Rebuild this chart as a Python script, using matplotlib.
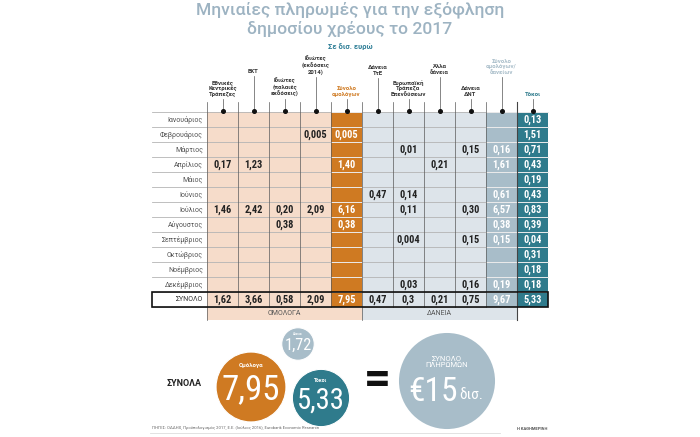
import matplotlib
matplotlib.use("Agg")
import matplotlib.pyplot as plt
from matplotlib import font_manager
from matplotlib.patches import Rectangle, Circle
import numpy as np

# --- data (δισ. ευρώ) ---
months = ["Ιανουάριος", "Φεβρουάριος", "Μάρτιος", "Απρίλιος", "Μάιος", "Ιούνιος",
          "Ιούλιος", "Αύγουστος", "Σεπτέμβριος", "Οκτώβριος", "Νοέμβριος", "Δεκέμβριος"]

col_labels = ["Εθνικές\nΚεντρικές\nΤράπεζες", "ΕΚΤ", "Ιδιώτες\n(παλαιές\nεκδόσεις)",
              "Ιδιώτες\n(εκδόσεις\n2014)", "Σύνολο\nομολόγων", "Δάνεια\nΤτΕ",
              "Ευρωπαϊκή\nΤράπεζα\nΕπενδύσεων", "Άλλα\nδάνεια", "Δάνεια\nΔΝΤ",
              "Σύνολο\nομολόγων/\nδανείων", "Τόκοι"]

ncb       = ["", "", "", "0,17", "", "", "1,46", "", "", "", "", ""]
ecb       = ["", "", "", "1,23", "", "", "2,42", "", "", "", "", ""]
priv_old  = ["", "", "", "", "", "", "0,20", "0,38", "", "", "", ""]
priv_2014 = ["", "0,005", "", "", "", "", "2,09", "", "", "", "", ""]
bonds_tot = ["", "0,005", "", "1,40", "", "", "6,16", "0,38", "", "", "", ""]
bog       = ["", "", "", "", "", "0,47", "", "", "", "", "", ""]
eib       = ["", "", "0,01", "", "", "0,14", "0,11", "", "0,004", "", "", "0,03"]
other     = ["", "", "", "0,21", "", "", "", "", "", "", "", ""]
imf       = ["", "", "0,15", "", "", "", "0,30", "", "0,15", "", "", "0,16"]
bl_tot    = ["", "", "0,16", "1,61", "", "0,61", "6,57", "0,38", "0,15", "", "", "0,19"]
interest  = ["0,13", "1,51", "0,71", "0,43", "0,19", "0,43", "0,83", "0,39", "0,04",
             "0,31", "0,18", "0,18"]
totals    = ["1,62", "3,66", "0,58", "2,09", "7,95", "0,47", "0,3", "0,21", "0,75",
             "9,67", "5,33"]

sum_bonds = 7.95
sum_loans = 1.72
sum_interest = 5.33
sum_all = 15

table = [ncb, ecb, priv_old, priv_2014, bonds_tot, bog, eib, other, imf, bl_tot, interest]

# --- style ---
PEACH, ORANGE = "#f6dcca", "#cf7a22"
LBLUE, GBLUE, TEAL = "#dde4ea", "#a8bdc9", "#2f7b8c"
TITLE_C = "#9db3c2"
col_fill = [PEACH] * 4 + [ORANGE] + [LBLUE] * 4 + [GBLUE, TEAL]
col_text = ["#222"] * 4 + ["white"] + ["#222"] * 4 + ["white", "white"]
head_color = ["#333"] * 4 + [ORANGE] + ["#333"] * 4 + [GBLUE, TEAL]
head_bottom = [97, 74, 97, 75, 97, 76, 97, 75, 97, 75, 97]

names = {f.name for f in font_manager.fontManager.ttflist}
NARROW = next((n for n in ["Liberation Sans Narrow", "Roboto Condensed",
                           "Open Sans Condensed"] if n in names), "Roboto")
BASE = "Roboto" if "Roboto" in names else "DejaVu Sans"

x0, cw = 207, 31
y0, rh = 112, 15
lab_left = 152
n_cols = len(table)
n_rows = len(months)
x_end = x0 + cw * n_cols

fig = plt.figure(figsize=(7, 4.37), dpi=100)
ax = fig.add_axes([0, 0, 1, 1])
ax.set_xlim(0, 700)
ax.set_ylim(437, 0)
ax.axis("off")

# title
ax.text(350, 10, "Μηνιαίες πληρωμές για την εξόφληση", ha="center", va="center",
        fontsize=12.6, color=TITLE_C, weight=500, family=BASE)
ax.text(350, 29, "δημοσίου χρέους το 2017", ha="center", va="center",
        fontsize=12.6, color=TITLE_C, weight=500, family=BASE)
ax.text(350, 46, "Σε δισ. ευρώ", ha="center", va="center", fontsize=5.5,
        color="#2f7f97", weight="bold", family=BASE)

# column fills
for j in range(n_cols):
    ax.add_patch(Rectangle((x0 + cw * j, y0), cw, rh * (n_rows + 1),
                           facecolor=col_fill[j], edgecolor="none", zorder=1))

# bottom bands
band_y = y0 + rh * (n_rows + 1)
ax.add_patch(Rectangle((x0, band_y), cw * 5, 13, facecolor=PEACH, edgecolor="none"))
ax.add_patch(Rectangle((x0 + cw * 5, band_y), cw * 5, 13, facecolor=LBLUE, edgecolor="none"))
ax.text(x0 + cw * 2.5, band_y + 6.5, "ΟΜΟΛΟΓΑ", ha="center", va="center",
        fontsize=5, color="#555", family=BASE)
ax.text(x0 + cw * 7.5, band_y + 6.5, "ΔΑΝΕΙΑ", ha="center", va="center",
        fontsize=5, color="#555", family=BASE)

# horizontal grid
for i in range(n_rows + 2):
    y = y0 + rh * i
    ax.plot([lab_left, x_end], [y, y], color="#b4b4b4", lw=0.6, zorder=2)
    for j in (4, 9, 10):
        ax.plot([x0 + cw * j, x0 + cw * (j + 1)], [y, y], color="#f4f4f4",
                lw=0.6, zorder=2)

# vertical grid
for j in range(n_cols):
    x = x0 + cw * j
    bottom = band_y + 13 if j in (0, 5) else band_y
    ax.plot([x, x], [102, bottom], color="#5a5a5a", lw=0.5, zorder=3)
ax.plot([x0 + cw * 10] * 2, [102, band_y + 13], color="#444", lw=0.8, zorder=3)

# column headers with pointer lines
for j, lab in enumerate(col_labels):
    cx = x0 + cw * (j + 0.5)
    ax.text(cx, head_bottom[j], lab, ha="center", va="bottom", fontsize=4.3,
            weight="bold", color=head_color[j], linespacing=1.15, family=BASE)
    ax.plot([cx, cx], [head_bottom[j] + 2, y0], color="#555", lw=0.5, zorder=3)
    ax.plot(cx, y0 - 1, "o", ms=2.6, color="#111", zorder=5)

# month labels and values
for i, m in enumerate(months):
    cy = y0 + rh * (i + 0.5)
    ax.text(lab_left + 51, cy, m, ha="right", va="center", fontsize=5,
            color="#555", family=BASE)
    for j in range(n_cols):
        v = table[j][i]
        if v:
            ax.text(x0 + cw * (j + 0.5), cy, v, ha="center", va="center",
                    fontsize=7.5, weight="bold", color=col_text[j],
                    family=NARROW, zorder=6)

# total row
ty = y0 + rh * n_rows
ax.add_patch(Rectangle((lab_left, ty), x_end - lab_left, rh, facecolor="none",
                       edgecolor="#111", lw=1.2, zorder=7))
ax.text(lab_left + 51, ty + rh / 2, "ΣΥΝΟΛΟ", ha="right", va="center", fontsize=5,
        color="#333", family=BASE)
for j, v in enumerate(totals):
    ax.text(x0 + cw * (j + 0.5), ty + rh / 2, v, ha="center", va="center",
            fontsize=7.5, weight="bold", color=col_text[j], family=NARROW, zorder=8)

# summary bubbles, area proportional to value
k = 12.4
def fmt(v):
    return f"{v:.2f}".replace(".", ",")

ax.text(202, 383, "ΣΥΝΟΛΑ", ha="right", va="center", fontsize=6.5, weight="bold",
        color="#222", family=BASE)

bubbles = [  # value, centre, colour, caption
    (sum_loans, (298, 344), GBLUE, "Δάνεια"),
    (sum_bonds, (251, 387), ORANGE, "Ομόλογα"),
    (sum_interest, (321, 398), TEAL, "Τόκοι"),
]
for v, (cx, cy), c, cap in bubbles:
    r = k * np.sqrt(v)
    ax.add_patch(Circle((cx, cy), r, facecolor=c, edgecolor="white", lw=0.8, zorder=4))
    ax.text(cx, cy - r * 0.62, cap, ha="center", va="center", fontsize=r / 8,
            color="white", weight="bold", family=BASE, zorder=6)
    ax.text(cx, cy + r * 0.08, fmt(v), ha="center", va="center", fontsize=r * 0.72,
            color="white", family=NARROW, zorder=6)

ax.text(377, 380, "=", ha="center", va="center", fontsize=34, weight="bold",
        color="#111", family=BASE)

r_all = k * np.sqrt(sum_all)
ax.add_patch(Circle((447, 381), r_all, facecolor=GBLUE, edgecolor="none", zorder=4))
ax.text(447, 362, "ΣΥΝΟΛΟ\nΠΛΗΡΩΜΩΝ", ha="center", va="center", fontsize=5.5,
        color="white", linespacing=1.1, family=BASE, zorder=6)
ax.text(458, 392, f"€{sum_all}", ha="right", va="center", fontsize=24,
        color="white", family=NARROW, zorder=6)
ax.text(459, 395, "δισ.", ha="left", va="center", fontsize=11,
        color="white", family=NARROW, zorder=6)

# footer
ax.text(152, 428, "ΠΗΓΕΣ: ΟΔΔΗΧ, Προϋπολογισμός 2017, Ε.Ε. (Ιούλιος 2016), "
        "Eurobank Economic Research", ha="left", va="center", fontsize=3,
        color="#666", family=BASE)
ax.plot([150, 500], [432.5, 432.5], color="#dddddd", lw=0.6)
ax.text(547, 429, "Η ΚΑΘΗΜΕΡΙΝΗ", ha="right", va="center", fontsize=3,
        color="#555", weight="bold", family=BASE)

fig.savefig("out.png", dpi=100)
